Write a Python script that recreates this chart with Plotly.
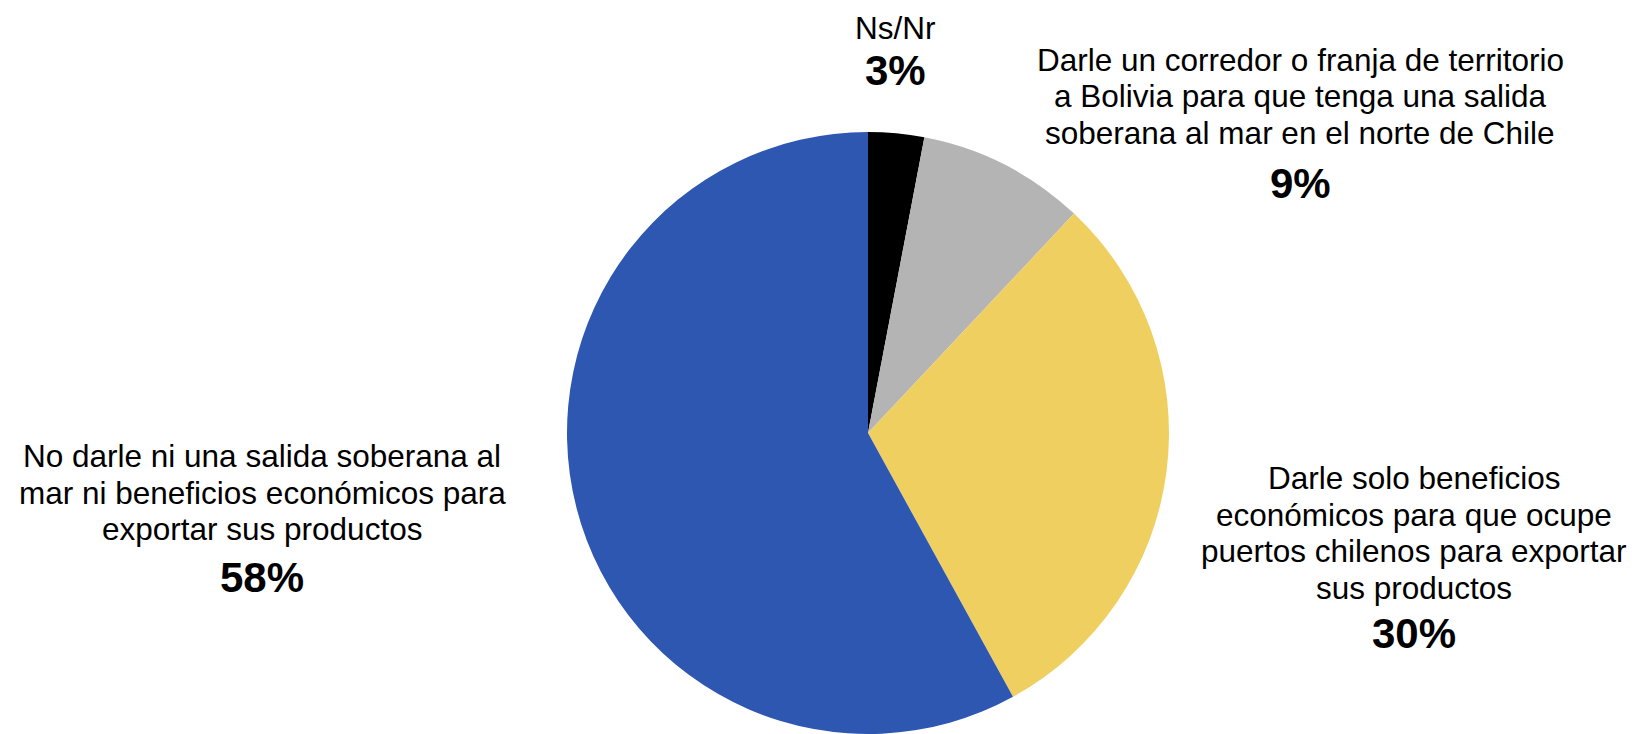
import plotly.graph_objects as go

W, H = 1636, 734
OFF = 8  # default page body margin in the browser

categories = ["Ns/Nr", "Corredor", "Beneficios", "No darle"]
label_lines = [
    ["Ns/Nr"],
    ["Darle un corredor o franja de territorio",
     "a Bolivia para que tenga una salida",
     "soberana al mar en el norte de Chile"],
    ["Darle solo beneficios",
     "económicos para que ocupe",
     "puertos chilenos para exportar",
     "sus productos"],
    ["No darle ni una salida soberana al",
     "mar ni beneficios económicos para",
     "exportar sus productos"],
]
values = [3, 9, 30, 58]
colors = ["#000000", "#B4B4B4", "#EFCF60", "#2E57B1"]

# label placement in window pixels: (center x, first line y, percent y)
label_pos = [
    (896, 28, 71),
    (1300, 59.5, 183.5),
    (1414, 478, 633),
    (262, 456, 577),
]
LINE_H = 36.6

FONT = "Liberation Sans, Arial, sans-serif"

# pie geometry in window pixels
CX, CY, R = 868, 433, 301
fx = (CX - OFF) / W
fy = 1 - (CY - OFF) / H
hx = R / W
hy = R / H

fig = go.Figure(go.Pie(
    labels=[" ".join(l) for l in label_lines],
    values=values,
    marker=dict(colors=colors, line=dict(width=0)),
    sort=False,
    direction="clockwise",
    rotation=0,
    textinfo="none",
    hoverinfo="label+percent",
    showlegend=False,
    domain=dict(x=[fx - hx - 0.05, fx + hx + 0.05], y=[fy - hy, fy + hy]),
))

def px(x):
    return (x - OFF) / W

def py(y):
    return 1 - (y - OFF) / H

for lines, val, (tx, ty, vy) in zip(label_lines, values, label_pos):
    for i, line in enumerate(lines):
        fig.add_annotation(x=px(tx), y=py(ty + i * LINE_H), xref="paper", yref="paper",
                           text=line, showarrow=False, xanchor="center", yanchor="middle",
                           align="center", font=dict(family=FONT, size=31.5, color="#000000"))
    fig.add_annotation(x=px(tx), y=py(vy), xref="paper", yref="paper",
                       text=f"<b>{val}%</b>", showarrow=False, xanchor="center", yanchor="middle",
                       align="center", font=dict(family=FONT, size=42, color="#000000"))

fig.update_layout(
    width=W, height=H,
    margin=dict(l=0, r=0, t=0, b=0),
    paper_bgcolor="#FFFFFF",
    plot_bgcolor="#FFFFFF",
)

fig.write_html("out.html")
